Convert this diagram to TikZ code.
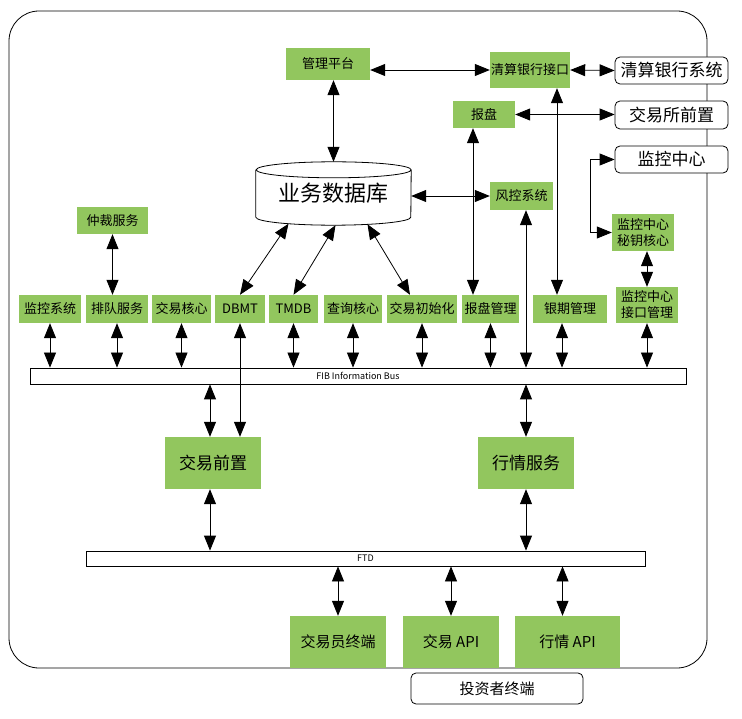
\documentclass[tikz,border=0pt]{standalone}
\usepackage{fontspec}
\setmainfont{Noto Sans CJK SC}
\usetikzlibrary{arrows.meta,positioning,calc}
\definecolor{boxgreen}{RGB}{146,198,94}

\begin{document}
\begin{tikzpicture}[x=1pt,y=-1pt,
  gbox/.style={fill=boxgreen,inner sep=0pt,align=center,font=\fontsize{13}{16}\selectfont},
  bigbox/.style={gbox,minimum width=96pt,minimum height=52pt,font=\fontsize{17}{20}\selectfont},
  wbox/.style={draw,fill=white,rounded corners=5pt,inner sep=0pt,line width=0.8pt,font=\fontsize{17}{20}\selectfont},
  bus/.style={draw,fill=white,inner sep=0pt,line width=0.8pt,font=\fontsize{9}{10}\selectfont},
  dbl/.style={{Triangle[length=15pt,width=12pt]}-{Triangle[length=15pt,width=12pt]},line width=0.8pt}]
\useasboundingbox (0,0) rectangle (742,719);
\draw[rounded corners=30pt,line width=0.8pt] (9,11) rectangle (707,668);

% top part
\node[gbox,minimum width=84pt,minimum height=32pt] (glpt) at (328,64) {管理平台};
\node[gbox,minimum width=80pt,minimum height=36pt] (qsjk) at (530,70) {清算银行接口};
\node[wbox,minimum width=113pt,minimum height=27pt] (qsxt) at (671.5,70.5) {清算银行系统};
\node[gbox,minimum width=62pt,minimum height=27pt] (bp) at (484,114.5) {报盘};
\node[wbox,minimum width=113pt,minimum height=28pt] (jysqz) at (671.5,115) {交易所前置};
\node[wbox,minimum width=113pt,minimum height=27pt] (jkzx) at (671.5,159.5) {监控中心};
\node[gbox,minimum width=63pt,minimum height=28pt] (fk) at (521.5,196) {风控系统};
\node[gbox,minimum width=62pt,minimum height=37pt] (mygx) at (643,232.5) {监控中心\\秘钥核心};
\node[gbox,minimum width=71pt,minimum height=27pt] (zcfw) at (112.5,220.5) {仲裁服务};

% database
\node[minimum width=155pt,minimum height=63pt,inner sep=0pt,font=\fontsize{22}{24}\selectfont] (db) at (333.5,193.5) {\raisebox{-4pt}{业务数据库}};
\draw[line width=0.8pt] ([yshift=-8pt]db.north west) -- ([yshift=8pt]db.south west)
  arc[start angle=180,end angle=360,x radius=77.5pt,y radius=8pt]
  -- ([yshift=-8pt]db.north east)
  arc[start angle=0,end angle=360,x radius=77.5pt,y radius=8pt];

% service row
\node[gbox,minimum width=62pt,minimum height=28pt] (jkxt) at (50,309) {监控系统};
\node[gbox,minimum width=62pt,minimum height=28pt] (pdfw) at (117,309) {排队服务};
\node[gbox,minimum width=59pt,minimum height=28pt] (jyhx) at (181.5,309) {交易核心};
\node[gbox,minimum width=50pt,minimum height=28pt] (dbmt) at (240,309) {DBMT};
\node[gbox,minimum width=49pt,minimum height=28pt] (tmdb) at (293.5,309) {TMDB};
\node[gbox,minimum width=58pt,minimum height=28pt] (cxhx) at (353,309) {查询核心};
\node[gbox,minimum width=70pt,minimum height=28pt] (jycsh) at (422,309) {交易初始化};
\node[gbox,minimum width=57pt,minimum height=28pt] (bpgl) at (490.5,309) {报盘管理};
\node[gbox,minimum width=74pt,minimum height=28pt] (yqgl) at (570,309) {银期管理};
\node[gbox,minimum width=62pt,minimum height=36pt] (jkgl) at (647,305) {监控中心\\接口管理};

% buses
\node[bus,minimum width=656pt,minimum height=16pt] (fib) at (358,376) {FIB Information Bus};
\node[bus,minimum width=559pt,minimum height=15pt] (ftd) at (365.5,558.5) {FTD};

% lower part
\node[bigbox] (jyqz) at (213,463) {交易前置};
\node[bigbox] (hqfw) at (526,463) {行情服务};
\node[bigbox,font=\fontsize{15}{18}\selectfont] (jyyzd) at (338,642) {交易员终端};
\node[bigbox,font=\fontsize{15}{18}\selectfont] (jyapi) at (451,642) {交易 API};
\node[bigbox,minimum width=105pt,font=\fontsize{15}{18}\selectfont] (hqapi) at (567.5,642) {行情 API};
\node[wbox,minimum width=172pt,minimum height=31pt,font=\fontsize{15}{18}\selectfont] (tzzzd) at (497,688.5) {投资者终端};

% connectors
\draw[dbl] (db.north |- glpt.south) -- (db.north);
\draw[dbl] (qsjk.west -| glpt.east) -- (qsjk.west);
\draw[dbl] (qsjk.east) -- (qsxt.west);
\draw[dbl] (bp.east) -- (bp.east -| jysqz.west);
\draw[dbl] (jkzx.west) -- ++(-24,0) |- (mygx.west);
\draw[dbl] (jkgl.north) -- (jkgl.north |- mygx.south);
\draw[dbl] (fk.west -| db.east) -- (fk.west);
\draw[dbl] ([xshift=-11pt]bp.south) -- ([xshift=-11pt]bp.south |- bpgl.north);
\draw[dbl] ([xshift=-13pt]yqgl.north |- qsjk.south) -- ([xshift=-13pt]yqgl.north);
\draw[dbl] (hqfw.north |- fk.south) -- (hqfw.north |- fib.north);
\draw[dbl] ([xshift=-45pt,yshift=1.5pt]db.south) -- (dbmt.north);
\draw[dbl] ([xshift=2pt]db.south) -- (tmdb.north);
\draw[dbl] ([xshift=34pt,yshift=1pt]db.south) -- ([xshift=-12pt]jycsh.north);
\draw[dbl] (zcfw.south) -- (zcfw.south |- pdfw.north);

\draw[dbl] (jkxt.south) -- (jkxt.south |- fib.north);
\draw[dbl] (pdfw.south) -- (pdfw.south |- fib.north);
\draw[dbl] (jyhx.south) -- (jyhx.south |- fib.north);
\draw[dbl] (tmdb.south) -- (tmdb.south |- fib.north);
\draw[dbl] (cxhx.south) -- (cxhx.south |- fib.north);
\draw[dbl] (jycsh.south) -- (jycsh.south |- fib.north);
\draw[dbl] (bpgl.south) -- (bpgl.south |- fib.north);
\draw[dbl] ([xshift=-8pt]yqgl.south) -- ([xshift=-8pt]yqgl.south |- fib.north);
\draw[dbl] (jkgl.south) -- (jkgl.south |- fib.north);
\draw[dbl] (dbmt.south) -- (dbmt.south |- jyqz.north);

\draw[dbl] ([xshift=-3pt]jyqz.north |- fib.south) -- ([xshift=-3pt]jyqz.north);
\draw[dbl] (hqfw.north |- fib.south) -- (hqfw.north);
\draw[dbl] ([xshift=-3pt]jyqz.south) -- ([xshift=-3pt]jyqz.south |- ftd.north);
\draw[dbl] (hqfw.south) -- (hqfw.south |- ftd.north);
\draw[dbl] (jyyzd.north |- ftd.south) -- (jyyzd.north);
\draw[dbl] (jyapi.north |- ftd.south) -- (jyapi.north);
\draw[dbl] ([xshift=-5pt]hqapi.north |- ftd.south) -- ([xshift=-5pt]hqapi.north);
\end{tikzpicture}
\end{document}
